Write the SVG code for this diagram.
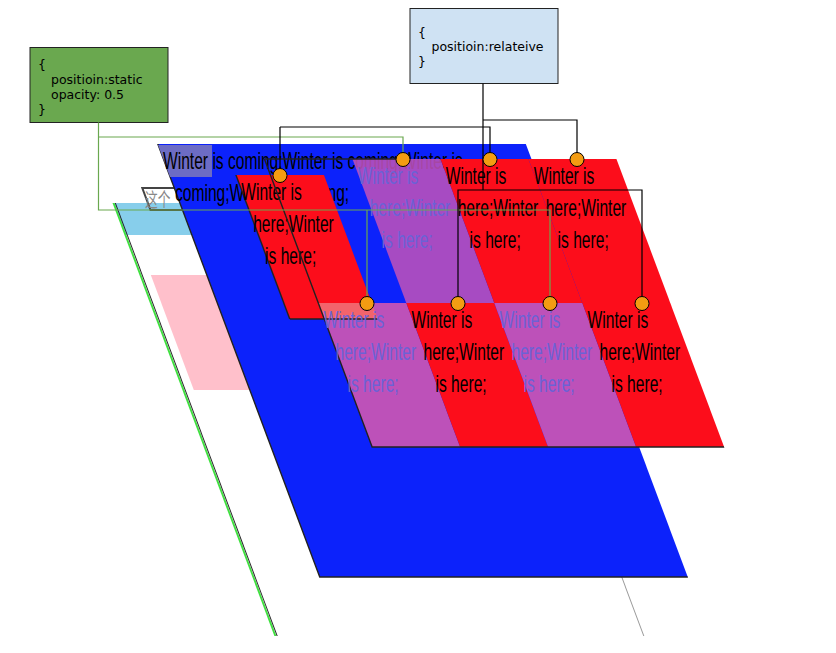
<svg xmlns="http://www.w3.org/2000/svg" width="836" height="653" viewBox="0 0 836 653">
<defs>
<style>
.t{font-family:"Liberation Sans",Arial,sans-serif;font-size:20px;fill:#000}
.tp{fill:#6b62d6}
.code{font-family:"DejaVu Sans",sans-serif;font-size:12.5px;fill:#000}
.cg{fill:none;stroke:#6aa84f;stroke-width:1.2}
.cb{fill:none;stroke:#000;stroke-width:1.2}
.dot{fill:#f39c12;stroke:#000;stroke-width:1}
.red{fill:#fc0d1b}
.pur{fill:#bd51b9}
.edge{fill:none;stroke:#222;stroke-width:1.5}
</style>
</defs>
<rect width="836" height="653" fill="#fff"/>

<g id="page-plane">
  <g transform="skewX(20.5)">
    <rect x="38" y="203" width="368" height="433" fill="#fff"/>
    <rect x="38" y="203" width="368" height="32" fill="#87ceeb"/>
    <rect x="48" y="275" width="260" height="115" fill="#ffc0cb"/>
    <line x1="406" y1="203" x2="406" y2="636" stroke="#999" stroke-width="1"/>
    <line x1="37.6" y1="203" x2="37.6" y2="636" stroke="#3fe03f" stroke-width="2"/>
    <line x1="39.4" y1="203" x2="39.4" y2="636" stroke="#222" stroke-width="1"/>
  </g>
</g>

<g id="zhege-box">
  <polygon points="142.3,188 180.3,188 188.5,210 150.5,210" fill="none" stroke="#444" stroke-width="2"/>
  <text transform="translate(145,207) scale(0.75,1.15)" font-family="'Noto Sans CJK SC',sans-serif" font-size="17" fill="#888">这个</text>
</g>

<g id="blue-plane">
  <g transform="skewX(20.5)">
    <rect x="104" y="144" width="368" height="433" fill="#0c22fb"/>
    <polyline points="104,144 104,577 472,577" class="edge"/>
  </g>
  <polygon points="158,145 212,145 212,177 170,177" fill="#6d6cc4"/>
  <text class="t" transform="translate(163,169) scale(.78,1.17)">Winter is coming;Winter is coming;Winter is</text>
  <text class="t" transform="translate(175,201) scale(.78,1.17)">coming;Winter is coming;</text>
</g>

<g id="cell-moved">
  <g transform="skewX(20.5)">
    <rect x="170.5" y="175" width="88" height="144" class="red"/>
    <polyline points="170.5,175 170.5,319" class="edge"/>
  </g>
  <text class="t" transform="translate(241.2,200) scale(.78,1.17)">Winter is</text>
  <text class="t" transform="translate(253.2,232) scale(.78,1.17)">here;Winter</text>
  <text class="t" transform="translate(265.1,264) scale(.78,1.17)">is here;</text>
</g>

<g id="cells">
  <g transform="skewX(20.5)">
    <rect x="293" y="159" width="88" height="144" class="pur" fill-opacity="0.88"/>
    <rect x="381" y="159" width="88" height="144" class="red"/>
    <rect x="469" y="159" width="88" height="144" class="red"/>
    <rect x="205" y="303" width="88" height="144" class="pur"/>
    <rect x="293" y="303" width="88" height="144" class="red"/>
    <rect x="381" y="303" width="88" height="144" class="pur"/>
    <rect x="469" y="303" width="88" height="144" class="red"/>
    <rect x="205" y="303" width="53.5" height="16" fill="#f2646c"/>
    <line x1="170.5" y1="319" x2="258.5" y2="319" class="edge"/>
    <polyline points="205,159 205,447 557,447" class="edge"/>
    <line x1="205" y1="159" x2="344" y2="159" class="edge"/>
  </g>
  <text class="t tp" transform="translate(357.7,184) scale(.78,1.17)">Winter is</text>
  <text class="t tp" transform="translate(369.7,216) scale(.78,1.17)">here;Winter</text>
  <text class="t tp" transform="translate(381.6,248) scale(.78,1.17)">is here;</text>
  <text class="t" transform="translate(445.7,184) scale(.78,1.17)">Winter is</text>
  <text class="t" transform="translate(457.7,216) scale(.78,1.17)">here;Winter</text>
  <text class="t" transform="translate(469.6,248) scale(.78,1.17)">is here;</text>
  <text class="t" transform="translate(533.7,184) scale(.78,1.17)">Winter is</text>
  <text class="t" transform="translate(545.7,216) scale(.78,1.17)">here;Winter</text>
  <text class="t" transform="translate(557.6,248) scale(.78,1.17)">is here;</text>
  <text class="t tp" transform="translate(323.6,328) scale(.78,1.17)">Winter is</text>
  <text class="t tp" transform="translate(335.5,360) scale(.78,1.17)">here;Winter</text>
  <text class="t tp" transform="translate(347.5,392) scale(.78,1.17)">is here;</text>
  <text class="t" transform="translate(411.6,328) scale(.78,1.17)">Winter is</text>
  <text class="t" transform="translate(423.5,360) scale(.78,1.17)">here;Winter</text>
  <text class="t" transform="translate(435.5,392) scale(.78,1.17)">is here;</text>
  <text class="t tp" transform="translate(499.6,328) scale(.78,1.17)">Winter is</text>
  <text class="t tp" transform="translate(511.5,360) scale(.78,1.17)">here;Winter</text>
  <text class="t tp" transform="translate(523.5,392) scale(.78,1.17)">is here;</text>
  <text class="t" transform="translate(587.6,328) scale(.78,1.17)">Winter is</text>
  <text class="t" transform="translate(599.5,360) scale(.78,1.17)">here;Winter</text>
  <text class="t" transform="translate(611.5,392) scale(.78,1.17)">is here;</text>
</g>

<g id="note-static">
  <rect x="30" y="47.5" width="138" height="75" fill="#6aa84f" stroke="#222" stroke-width="1"/>
  <text class="code" x="38" y="69">{</text>
  <text class="code" x="51" y="84">positioin:static</text>
  <text class="code" x="51" y="99">opacity: 0.5</text>
  <text class="code" x="38" y="114">}</text>
</g>

<g id="note-relative">
  <rect x="410" y="8.5" width="148" height="75" fill="#cfe2f3" stroke="#222" stroke-width="1"/>
  <text class="code" x="418" y="37">{</text>
  <text class="code" x="431.5" y="51">positioin:relateive</text>
  <text class="code" x="418" y="66">}</text>
</g>

<g id="connectors">
  <path class="cg" d="M98.5,122.5 V210 H550 V297 M98.5,137 H403 V153 M367,210 V297"/>
  <path class="cb" d="M483,83.5 V190 M483,120 H577 V153 M280,127 H490 V153 M280,127 V169 M458,297 V190 H642 V297"/>
  <circle class="dot" cx="280" cy="175.5" r="7"/>
  <circle class="dot" cx="403" cy="159.5" r="7"/>
  <circle class="dot" cx="490" cy="159.5" r="7"/>
  <circle class="dot" cx="577" cy="159.5" r="7"/>
  <circle class="dot" cx="367" cy="303.5" r="7"/>
  <circle class="dot" cx="458" cy="303.5" r="7"/>
  <circle class="dot" cx="550" cy="303.5" r="7"/>
  <circle class="dot" cx="642" cy="303.5" r="7"/>
</g>
</svg>
